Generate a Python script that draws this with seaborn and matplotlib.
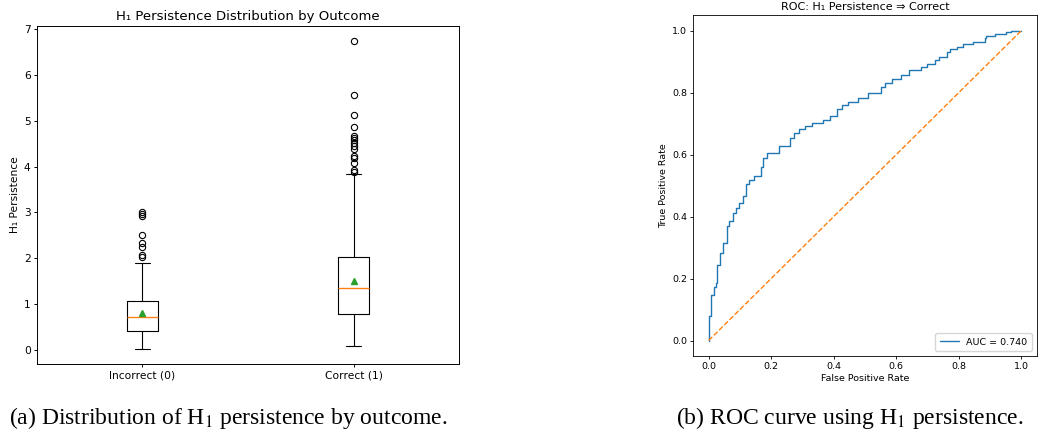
import numpy as np
import pandas as pd
import matplotlib
matplotlib.use('Agg')
import matplotlib.pyplot as plt
import seaborn as sns

# box plot summary stats
groups = ['Incorrect (0)', 'Correct (1)']
q1 = [0.42, 0.79]
median = [0.73, 1.36]
q3 = [1.06, 2.02]
whislo = [0.03, 0.08]
whishi = [1.89, 3.84]
means = [0.81, 1.51]
fliers_incorrect = [2.03, 2.07, 2.24, 2.34, 2.51, 2.92, 2.97, 3.00]
fliers_correct = [3.89, 3.93, 4.07, 4.18, 4.23, 4.38, 4.45, 4.51, 4.59,
                  4.63, 4.66, 4.87, 5.12, 5.56, 6.73]

# ROC curve points
fpr = [0.0, 0.0, 0.006, 0.006, 0.008, 0.008, 0.016, 0.016, 0.022, 0.022,
       0.027, 0.027, 0.035, 0.035, 0.047, 0.047, 0.058, 0.058, 0.064, 0.064,
       0.077, 0.077, 0.087, 0.087, 0.098, 0.098, 0.111, 0.111, 0.119, 0.119,
       0.130, 0.145, 0.166, 0.166, 0.174, 0.174, 0.188, 0.209, 0.224, 0.224,
       0.237, 0.261, 0.261, 0.272, 0.288, 0.309, 0.330, 0.367, 0.388, 0.412,
       0.412, 0.425, 0.446, 0.477, 0.509, 0.551, 0.564, 0.588, 0.614, 0.641,
       0.678, 0.697, 0.725, 0.736, 0.762, 0.772, 0.793, 0.815, 0.846, 0.883,
       0.886, 0.915, 0.951, 0.967, 0.981, 1.0]
tpr = [0.0, 0.079, 0.079, 0.088, 0.088, 0.147, 0.147, 0.174, 0.174, 0.187,
       0.187, 0.245, 0.245, 0.282, 0.282, 0.315, 0.315, 0.369, 0.369, 0.385,
       0.385, 0.412, 0.412, 0.429, 0.429, 0.445, 0.445, 0.466, 0.466, 0.490,
       0.504, 0.517, 0.531, 0.545, 0.560, 0.575, 0.588, 0.605, 0.605, 0.613,
       0.629, 0.629, 0.637, 0.653, 0.670, 0.683, 0.692, 0.701, 0.713, 0.724,
       0.735, 0.748, 0.759, 0.769, 0.782, 0.800, 0.818, 0.832, 0.845, 0.858,
       0.872, 0.883, 0.894, 0.905, 0.916, 0.930, 0.940, 0.948, 0.956, 0.962,
       0.977, 0.984, 0.988, 0.997, 1.0, 1.0]
auc_label = 'AUC = 0.740'

sns.set_style('white', {'axes.edgecolor': 'black', 'xtick.bottom': True,
                        'ytick.left': True, 'text.color': 'black',
                        'axes.labelcolor': 'black', 'xtick.color': 'black',
                        'ytick.color': 'black'})
plt.rcParams['font.family'] = ['DejaVu Sans']
plt.rcParams['mathtext.fontset'] = 'stix'

fig = plt.figure(figsize=(10.39, 4.32), dpi=100)
ax1 = fig.add_axes([0.0356, 0.1574, 0.4062, 0.7824])
ax2 = fig.add_axes([0.667, 0.1759, 0.331, 0.789])

# left: box plot
stats = []
for i, fl in enumerate([fliers_incorrect, fliers_correct]):
    stats.append(dict(label=groups[i], q1=q1[i], med=median[i], q3=q3[i],
                      whislo=whislo[i], whishi=whishi[i], mean=means[i],
                      fliers=fl))
lw = 0.8
ax1.bxp(stats, showmeans=True, widths=0.15,
        boxprops=dict(linewidth=lw),
        whiskerprops=dict(linewidth=lw),
        capprops=dict(linewidth=lw),
        medianprops=dict(color='C1', linewidth=lw * 1.2),
        meanprops=dict(marker='^', markerfacecolor='C2', markeredgecolor='C2',
                       markersize=4.5),
        flierprops=dict(marker='o', markerfacecolor='none',
                        markeredgecolor='black', markersize=4.5,
                        markeredgewidth=0.8))
ax1.set_title('H₁ Persistence Distribution by Outcome', fontsize=9.5, pad=4)
ax1.set_ylabel('H₁ Persistence', fontsize=7.7, labelpad=3)
ax1.tick_params(labelsize=7.7, length=2.5, width=0.7, pad=2)
for s in ax1.spines.values():
    s.set_linewidth(0.7)

# right: ROC
roc = pd.DataFrame({'fpr': fpr, 'tpr': tpr})
sns.lineplot(data=roc, x='fpr', y='tpr', sort=False, estimator=None,
             color='C0', linewidth=1.0, label=auc_label, ax=ax2,
             drawstyle='steps-pre')
ax2.plot([0, 1], [0, 1], '--', color='C1', linewidth=1.0)
ax2.set_xlim(-0.05, 1.05)
ax2.set_ylim(-0.05, 1.05)
ax2.set_title('ROC: H₁ Persistence ⇒ Correct', fontsize=8, pad=4)
ax2.set_xlabel('False Positive Rate', fontsize=6.8, labelpad=2)
ax2.set_ylabel('True Positive Rate', fontsize=6.8, labelpad=3)
ax2.tick_params(labelsize=6.8, length=2.2, width=0.6, pad=2)
ax2.legend(loc='lower right', fontsize=6.8, handlelength=2.0, borderpad=0.5)
for s in ax2.spines.values():
    s.set_linewidth(0.6)

# captions
fig.text(0.220, 0.032, '(a) Distribution of H$_1$ persistence by outcome.',
         ha='center', va='center', fontsize=17, family='Liberation Serif')
fig.text(0.818, 0.032, '(b) ROC curve using H$_1$ persistence.',
         ha='center', va='center', fontsize=17, family='Liberation Serif')

fig.savefig('out.png', dpi=100)
